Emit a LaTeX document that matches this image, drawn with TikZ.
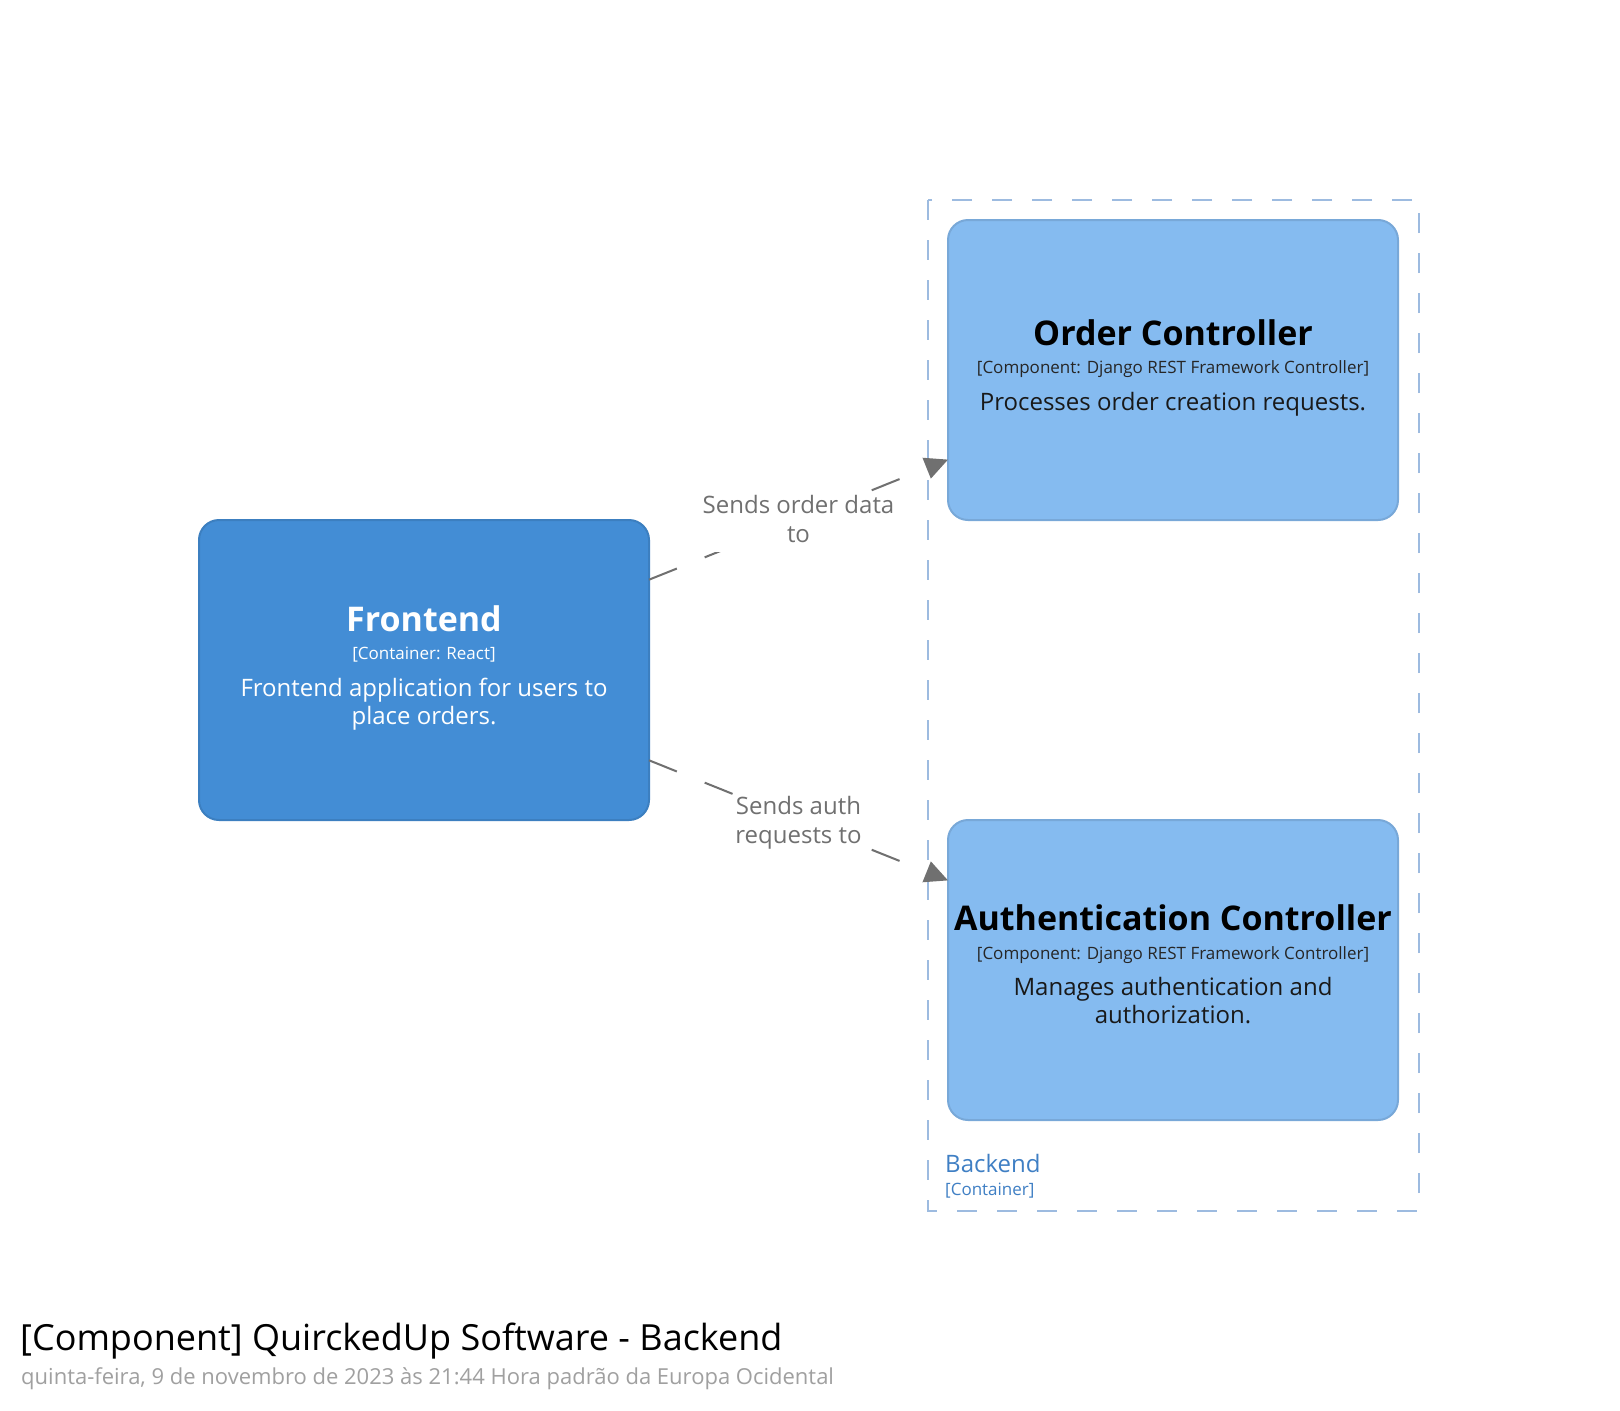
\documentclass[tikz,border=0pt]{standalone}
\usepackage{fontspec}
\setmainfont{Open Sans}
\usetikzlibrary{arrows.meta}
\definecolor{feFill}{HTML}{438DD5}
\definecolor{feDraw}{HTML}{3C7FC0}
\definecolor{cFill}{HTML}{85BBF0}
\definecolor{cDraw}{HTML}{78A8D8}
\definecolor{bnd}{HTML}{9DBBE0}
\definecolor{bndText}{HTML}{3F7FC4}
\definecolor{relGray}{HTML}{707070}
\definecolor{subGray}{HTML}{A0A0A0}
\tikzset{
  elbox/.style={rectangle, rounded corners=20pt, line width=2pt, minimum width=450pt, minimum height=300pt, inner sep=0pt, outer sep=0pt},
  febox/.style={elbox, fill=feFill, draw=feDraw},
  cbox/.style={elbox, fill=cFill, draw=cDraw},
  elname/.style={anchor=base, inner sep=0pt, font=\fontsize{34}{40}\selectfont\bfseries},
  eltech/.style={anchor=base, inner sep=0pt, font=\fontsize{17}{20}\selectfont},
  eldesc/.style={inner sep=0pt, align=center, font=\fontsize{24}{28}\selectfont},
  rel/.style={draw=relGray, line width=2pt, dash pattern=on 30pt off 30pt, -{Triangle[length=23pt,width=22pt,fill=relGray]}},
  lbl/.style={fill=white, inner sep=0pt, align=center, text=relGray, font=\fontsize{24}{29}\selectfont, yshift=-3pt},
  bndbox/.style={draw=bnd, line width=2pt, dash pattern=on 20pt off 20pt},
}
\begin{document}
\begin{tikzpicture}[x=1pt,y=-1pt]
\useasboundingbox[fill=white] (0,0) rectangle (1620,1411);
% boundary
\draw[bndbox] (928,200) rectangle (1419,1211);
\node[anchor=base west, inner sep=0pt, text=bndText, font=\fontsize{24}{28}\selectfont] (bname) at (945,1172) {Backend};
\node[anchor=base west, inner sep=0pt, text=bndText, font=\fontsize{17}{20}\selectfont] (btech) at (945,1195) {[Container]};
% elements
\node[febox] (fe) at (424,670) {};
\node[cbox] (oc) at (1173,370) {};
\node[cbox] (ac) at (1173,970) {};
% Frontend text
\node[elname, text=white] (fename) at (424,631) {Frontend};
\node[eltech, text=white] (fetech) at (424,659) {[Container: React]};
\node[eldesc, text=white] (fedesc) at (424,704.4) {\strut Frontend application for users to\\\strut place orders.};
% Order controller text
\node[elname, text=black] (ocname) at (1173,345) {Order Controller};
\node[eltech, text=black!85] (octech) at (1173,373) {[Component: Django REST Framework Controller]};
\node[eldesc, anchor=base, text=black!90] (ocdesc) at (1173,410) {Processes order creation requests.};
% Auth controller text
\node[elname, text=black] (acname) at (1173,930) {Authentication Controller};
\node[eltech, text=black!85] (actech) at (1173,959) {[Component: Django REST Framework Controller]};
\node[eldesc, text=black!90] (acdesc) at (1173,1003.4) {\strut Manages authentication and\\\strut authorization.};
% relationships
\draw[rel] (fe) -- node[lbl] (l1) {\strut Sends order data\\\strut to} (oc);
\draw[rel] (fe) -- node[lbl] (l2) {\strut Sends auth\\\strut requests to} (ac);
% title
\node[anchor=base west, inner sep=0pt, font=\fontsize{36}{42}\selectfont] (title) at (20,1350) {[Component] QuirckedUp Software - Backend};
\node[anchor=base west, inner sep=0pt, text=subGray, font=\fontsize{22}{26}\selectfont] (subtitle) at (21,1384) {quinta-feira, 9 de novembro de 2023 às 21:44 Hora padrão da Europa Ocidental};
\end{tikzpicture}
\end{document}
